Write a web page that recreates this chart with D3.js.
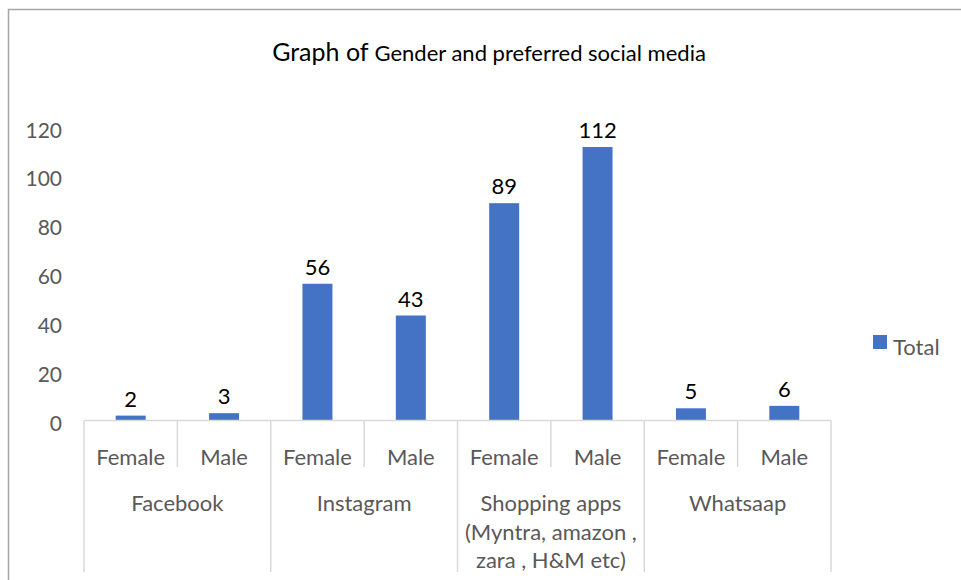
<!DOCTYPE html>
<html>
<head>
<meta charset="utf-8">
<script src="https://cdn.jsdelivr.net/npm/d3@7"></script>
<style>
  body { margin: 0; background: #fff; }
  text { font-family: Lato, "Open Sans", sans-serif; }
</style>
</head>
<body>
<div id="canvas"></div>
<script>
"use strict"

/* chart data */
let groups = ["Facebook", "Instagram", "Shopping apps (Myntra, amazon , zara , H&M etc)", "Whatsaap"];
let groupLines = [["Facebook"], ["Instagram"], ["Shopping apps", "(Myntra, amazon ,", "zara , H&M etc)"], ["Whatsaap"]];
let genders = ["Female", "Male"];
let totals = [2, 3, 56, 43, 89, 112, 5, 6];
let yTicks = [0, 20, 40, 60, 80, 100, 120];
let seriesName = "Total";

let W = 961, H = 580;
let barColor = "#4472C4";
let gridColor = "#d9d9d9";
let textColor = "#595959";

let drawing = d3.select("#canvas")
    .append("svg")
    .attr("width", W)
    .attr("height", H);

/* chart frame (only top and left edges are visible) */
drawing.append("path")
    .attr("d", "M8.5," + H + " L8.5,9.5 L" + W + ",9.5")
    .attr("fill", "none")
    .attr("stroke", "#a6a6a6")
    .attr("stroke-width", 1.5);

/* title */
let title = drawing.append("text")
    .attr("x", 489)
    .attr("y", 61)
    .attr("text-anchor", "middle")
    .attr("fill", "#000");
title.append("tspan").attr("font-size", 25).text("Graph of ");
title.append("tspan").attr("font-size", 22).text("Gender and preferred social media");

/* one key per bar: group + gender */
let keys = [];
groups.forEach((g, gi) => genders.forEach((s, si) => keys.push(gi + "|" + s)));

let left = 84, right = 831;
let x = d3.scaleBand()
    .domain(keys)
    .range([left, right])
    .paddingInner(0.679)
    .paddingOuter(0.3395);

let y = d3.scaleLinear()
    .domain([0, 120])
    .range([420.5, 127.5]);

let step = x.step();

/* y axis labels */
let yAxis = drawing.append("g")
    .attr("transform", "translate(" + (left - 22) + ",0)")
    .call(d3.axisLeft(y).tickValues(yTicks).tickSize(0).tickPadding(0));
yAxis.select(".domain").remove();
yAxis.selectAll("text")
    .attr("fill", textColor)
    .attr("font-size", 21)
    .attr("font-family", "Lato, 'Open Sans', sans-serif")
    .attr("dy", "0.65em")
    .attr("y", -4);

/* bars */
drawing.selectAll("rect.bar")
    .data(totals)
    .enter()
    .append("rect")
    .attr("class", "bar")
    .attr("x", (d, i) => x(keys[i]))
    .attr("y", d => y(d))
    .attr("width", x.bandwidth())
    .attr("height", d => y(0) - y(d))
    .attr("fill", barColor);

/* data labels */
drawing.selectAll("text.val")
    .data(totals)
    .enter()
    .append("text")
    .attr("class", "val")
    .attr("x", (d, i) => x(keys[i]) + x.bandwidth() / 2)
    .attr("y", d => y(d) - 9)
    .attr("text-anchor", "middle")
    .attr("font-size", 22)
    .attr("fill", "#000")
    .text(d => d);

/* category axis line */
drawing.append("line")
    .attr("x1", left)
    .attr("x2", right)
    .attr("y1", y(0))
    .attr("y2", y(0))
    .attr("stroke", gridColor)
    .attr("stroke-width", 1.5);

/* separators: short ones between genders, long ones between groups */
let edges = d3.range(keys.length + 1);
drawing.selectAll("line.sep")
    .data(edges)
    .enter()
    .append("line")
    .attr("class", "sep")
    .attr("x1", i => left + i * step)
    .attr("x2", i => left + i * step)
    .attr("y1", y(0))
    .attr("y2", i => (i % 2 === 0) ? 572 : 467)
    .attr("stroke", gridColor)
    .attr("stroke-width", 1.5);

/* gender labels */
drawing.selectAll("text.gender")
    .data(keys)
    .enter()
    .append("text")
    .attr("class", "gender")
    .attr("x", d => x(d) + x.bandwidth() / 2)
    .attr("y", 465)
    .attr("text-anchor", "middle")
    .attr("font-size", 22)
    .attr("fill", textColor)
    .text(d => d.split("|")[1]);

/* group labels */
let groupText = drawing.selectAll("text.group")
    .data(groupLines)
    .enter()
    .append("text")
    .attr("class", "group")
    .attr("x", (d, i) => left + (2 * i + 1) * step)
    .attr("y", 511)
    .attr("text-anchor", "middle")
    .attr("font-size", 22)
    .attr("fill", textColor);
groupText.selectAll("tspan")
    .data(d => d)
    .enter()
    .append("tspan")
    .attr("x", function () { return d3.select(this.parentNode).attr("x"); })
    .attr("dy", (d, i) => i === 0 ? 0 : 28.5)
    .text(d => d);

/* legend */
drawing.append("rect")
    .attr("x", 873)
    .attr("y", 335)
    .attr("width", 14)
    .attr("height", 14)
    .attr("fill", barColor);
drawing.append("text")
    .attr("x", 893)
    .attr("y", 355)
    .attr("font-size", 22)
    .attr("fill", textColor)
    .text(seriesName);
</script>
</body>
</html>
